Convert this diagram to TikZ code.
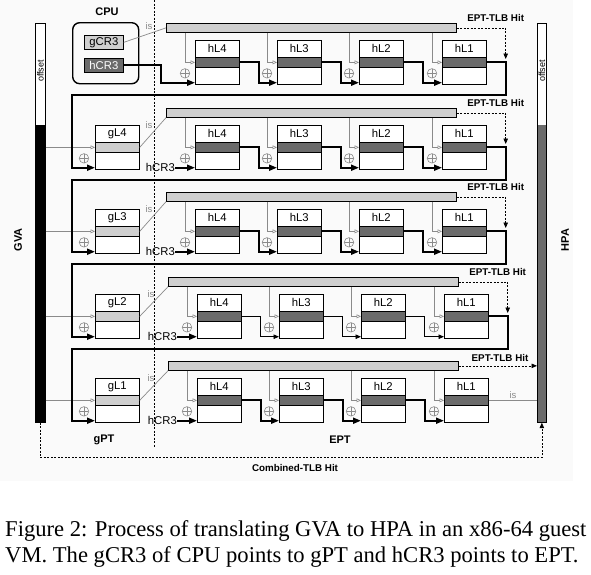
\documentclass[tikz,border=0pt]{standalone}
\usepackage{fontspec}
\setmainfont{Liberation Serif}
\setsansfont{Liberation Sans}
\usetikzlibrary{arrows.meta,calc}
\definecolor{dk}{HTML}{6B6B6B}
\definecolor{lt}{HTML}{CFCFCF}
\definecolor{gline}{HTML}{8A8A8A}
\tikzset{
  tbox/.style={draw=black, line width=0.7pt, fill=white, minimum width=44pt, minimum height=44pt, inner sep=0pt, anchor=north west},
  tband/.style={draw=black, line width=0.7pt, minimum width=44pt, minimum height=10pt, inner sep=0pt, anchor=north west},
  tlabel/.style={font=\sffamily\fontsize{11.3}{13}\selectfont, inner sep=0pt},
  blabel/.style={font=\sffamily\bfseries\fontsize{11}{13}\selectfont, inner sep=0pt},
  tlbbar/.style={draw=black, line width=0.7pt, fill=lt, minimum width=290pt, minimum height=9pt, inner sep=0pt, anchor=north west},
  walk/.style={line width=1.8pt, -{Triangle[length=8pt,width=6pt]}},
  thinwalk/.style={line width=0.8pt, -{Triangle[length=5.5pt,width=4.5pt]}},
  idx/.style={draw=gline, line width=0.6pt, -{Triangle[open,length=4.5pt,width=4pt]}},
  isline/.style={draw=gline, line width=0.7pt},
  istext/.style={text=gline, font=\sffamily\fontsize{9.5}{11}\selectfont, inner sep=0pt},
  hit/.style={line width=0.7pt, dash pattern=on 2pt off 1.5pt, -{Triangle[length=5.5pt,width=4.5pt]}},
  hitlabel/.style={font=\sffamily\bfseries\fontsize{9.8}{11}\selectfont, inner sep=0pt},
  oplus/.style={circle, draw=gline, line width=0.6pt, minimum size=9.5pt, inner sep=0pt,
    path picture={\draw[gline, line width=0.6pt] (path picture bounding box.north) -- (path picture bounding box.south) (path picture bounding box.west) -- (path picture bounding box.east);}},
  crbox/.style={draw=black, line width=0.7pt, minimum width=39pt, minimum height=14pt, inner sep=0pt, anchor=north west, font=\sffamily\fontsize{11.3}{13}\selectfont},
  addrbar/.style={draw=black, line width=0.7pt, fill=white, minimum width=10pt, minimum height=399pt, inner sep=0pt, anchor=north west},
  offtext/.style={rotate=90, font=\sffamily\fontsize{9}{10}\selectfont, inner sep=0pt}
}
\newcommand\tbl[5]{%
  \node[tbox] (#1) at (#2,#3) {};
  \node[tband, fill=#5] (#1b) at (#2,#3+17) {};
  \node[tlabel] (#1t) at ($(#1.north)+(0,8.5)$) {#4};
}
\begin{document}
\begin{tikzpicture}[x=1pt,y=-1pt]
\useasboundingbox (0,0) rectangle (591,574);
\fill[black!2] (0,0) rectangle (573,481);

% address bars
\node[addrbar] (gva) at (35,23) {};
\fill[black] (35,125) rectangle (45,422);
\draw[line width=0.7pt] (35,23) rectangle (45,422);
\node[offtext] (goff) at (40.5,71) {offset};
\node[rotate=90, blabel] (gvat) at (18,240) {GVA};

\node[addrbar, minimum width=9pt] (hpa) at (537,23) {};
\fill[dk] (537,125) rectangle (546,422);
\draw[line width=0.7pt] (537,23) rectangle (546,422);
\node[offtext] (hoff) at (542,71) {offset};
\node[rotate=90, blabel] (hpat) at (565,240) {HPA};

% separator
\coordinate (septop) at (154,0);
\coordinate (sepbot) at (154,448);
\draw[line width=0.7pt, dash pattern=on 2pt off 1.5pt] (septop) -- (sepbot);

% CPU
\node[blabel] (cput) at (107,12) {CPU};
\node[draw, line width=1.4pt, rounded corners=7pt, minimum width=66pt, minimum height=61pt, inner sep=0pt, anchor=north west] (cpu) at (72,22) {};
\node[crbox, fill=lt] (gcr3) at (84,35) {gCR3};
\node[crbox, fill=dk, text=white] (hcr3) at (84,58) {hCR3};

% EPT rows
\foreach \r/\T/\dx in {1/40/0,2/125/0,3/209/0,4/294/2,5/378/2}{
  \node[tlbbar] (bar\r) at (166+\dx,\T-17) {};
  \foreach \L/\X in {4/195,3/277,2/359,1/442}{
    \tbl{h\r\L}{\X+\dx}{\T}{hL\L}{dk}
    \coordinate (v\r\L) at ($(h\r\L b.west)+(-10,0)$);
    \draw[idx] (v\r\L |- bar\r.south) -- (v\r\L) -- (h\r\L b.west);
    \node[oplus] (o\r\L) at ($(h\r\L.west)+(-10,11)$) {};
  }
  \ifnum\r=4
    \def\ws{thinwalk}
  \else
    \def\ws{walk}
  \fi
  \draw[\ws] (h\r4b.east) -- ++(19,0) |- ($(h\r3.south west)+(0,-2)$);
  \draw[\ws] (h\r3b.east) -- ++(19,0) |- ($(h\r2.south west)+(0,-2)$);
  \draw[\ws] (h\r2b.east) -- ++(19,0) |- ($(h\r1.south west)+(0,-2)$);
  \ifnum\r<5
    \draw[hit] (bar\r.east) -| ($(h\r1.north east)+(19,19)$);
    \node[hitlabel] (hl\r) at ($(bar\r.east)+(39,-9.5)$) {EPT-TLB Hit};
  \fi
}

% gPT tables
\tbl{g4}{95}{125}{gL4}{lt}
\tbl{g3}{95}{209}{gL3}{lt}
\tbl{g2}{95}{294}{gL2}{lt}
\tbl{g1}{95}{378}{gL1}{lt}

\foreach \g/\r in {4/2,3/3,2/4,1/5}{
  \draw[idx] (gva.east |- g\g b.west) -- (g\g b.west);
  \node[oplus] (og\g) at ($(g\g.west)+(-11,11)$) {};
  \draw[isline] (g\g b.east) -- (bar\r.south west);
  \node[istext] (is\g) at ($(bar\r.south west)+(-17,7)$) {is};
  \node[tlabel, anchor=east] (hc\r) at ($(h\r4.south west)+(-20,-2)$) {hCR3};
  \draw[walk] (hc\r.east) -- ($(h\r4.south west)+(0,-2)$);
}

% row 1 from CPU
\draw[isline] (gcr3.east) -- (bar1.west);
\node[istext] (is0) at (149,26) {is};
\draw[walk] (hcr3.east) -- ++(37,0) |- ($(h14.south west)+(0,-2)$);

% row ends to next gPT level
\draw[walk] (h11b.east) -- ++(19,0) -- ++(0,33) -| ($(g4.south west)+(-23,-2)$) -- ($(g4.south west)+(0,-2)$);
\draw[walk] (h21b.east) -- ++(19,0) -- ++(0,33) -| ($(g3.south west)+(-23,-2)$) -- ($(g3.south west)+(0,-2)$);
\draw[walk] (h31b.east) -- ++(19,0) -- ++(0,33) -| ($(g2.south west)+(-23,-2)$) -- ($(g2.south west)+(0,-2)$);
\draw[walk] (h41b.east) -- ++(19,0) -- ++(0,33) -| ($(g1.south west)+(-23,-2)$) -- ($(g1.south west)+(0,-2)$);

% last row to HPA
\draw[hit] (bar5.east) -- (bar5.east -| hpa.west);
\node[hitlabel] (hl5) at (500,358) {EPT-TLB Hit};
\draw[isline] (h51b.east) -- (h51b.east -| hpa.west);
\node[istext] (is5) at (513,395) {is};

% combined TLB
\draw[hit] (gva.south) -- ++(0,35) -| (hpa.south);
\node[hitlabel] (comb) at (295,468) {Combined-TLB Hit};

\node[blabel] (gpt) at (104,440) {gPT};
\node[blabel] (ept) at (340,440) {EPT};

% caption
\node[anchor=base west, inner sep=0pt, font=\fontsize{22.6}{26}\selectfont] (cap1) at (5,536) {Figure 2: Process of translating GVA to HPA in an x86-64 guest};
\node[anchor=base west, inner sep=0pt, font=\fontsize{22.6}{26}\selectfont] (cap2) at (5,562) {VM. The gCR3 of CPU points to gPT and hCR3 points to EPT.};
\end{tikzpicture}
\end{document}
